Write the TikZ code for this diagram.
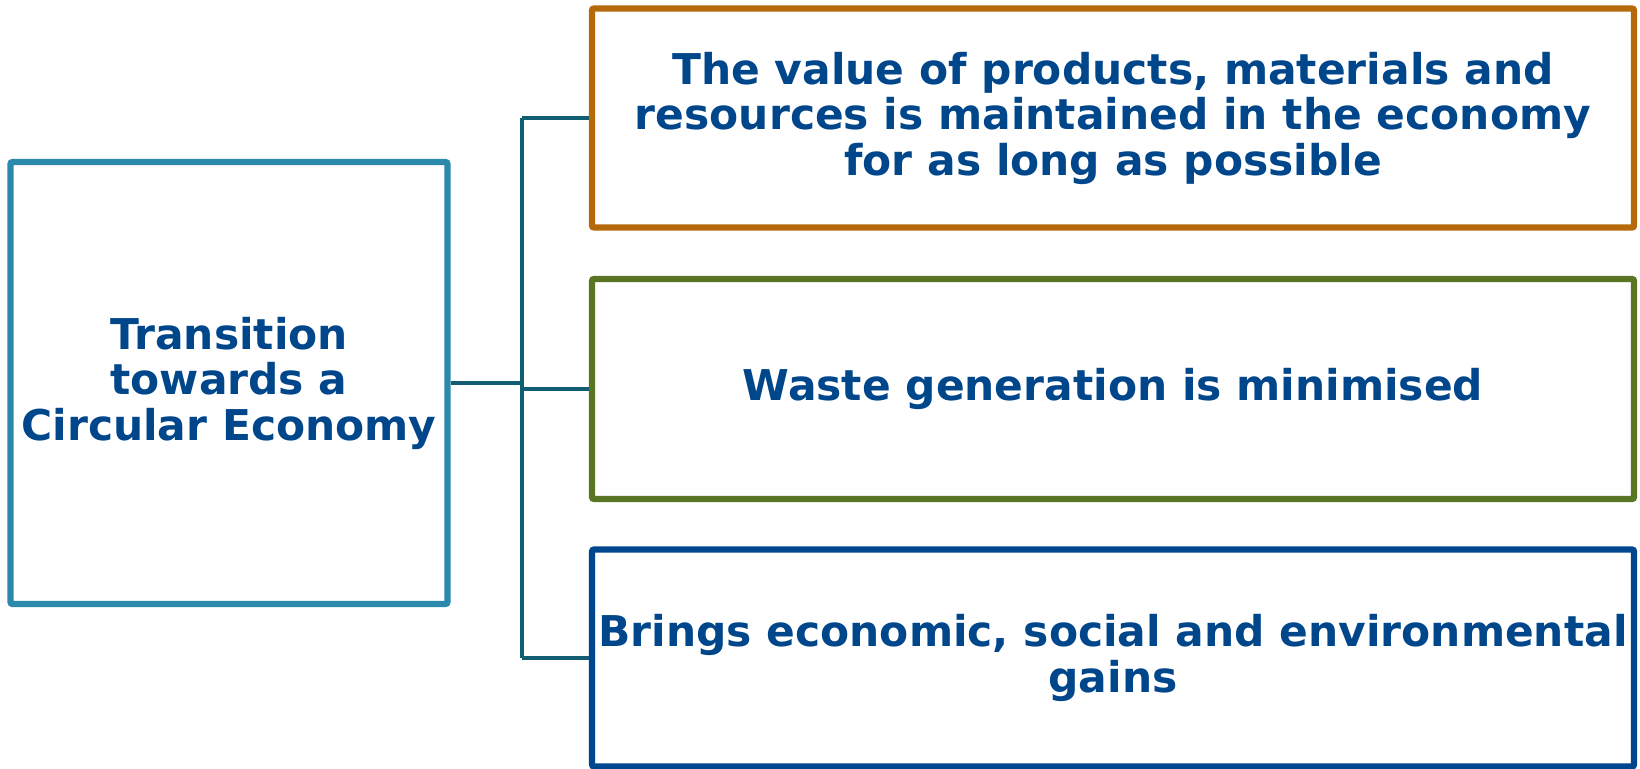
\documentclass[tikz,border=0pt]{standalone}
\usepackage{fontspec}
\setmainfont{DejaVu Sans}
\definecolor{ceteal}{HTML}{2B8AAB}
\definecolor{ceorange}{HTML}{B5690A}
\definecolor{cegreen}{HTML}{5A7523}
\definecolor{ceblue}{HTML}{00468F}
\definecolor{celink}{HTML}{115E72}
\definecolor{cetext}{HTML}{00468B}
\tikzset{
    cebox/.style={draw, rectangle, line width=6.2pt, rounded corners=2pt, fill=white,
        align=center, inner sep=0pt, text=cetext,
        font=\fontsize{42.4}{45.5}\selectfont\bfseries},
    celine/.style={draw=celink, line width=3.8pt}
}
\begin{document}
\begin{tikzpicture}[x=1pt, y=-1pt]

    \useasboundingbox (0, 0) rectangle (1640, 768);

    \node[cebox, draw=ceteal, minimum width=437pt, minimum height=442pt] (trans) at (229, 383)
        {Transition\\towards a\\Circular Economy};

    \node[cebox, draw=ceorange, minimum width=1042pt, minimum height=219pt] (value) at (1113, 118)
        {The value of products, materials and\\resources is maintained in the economy\\for as long as possible};
    \node[cebox, draw=cegreen, minimum width=1042pt, minimum height=220pt] (waste) at (1113, 389)
        {Waste generation is minimised};
    \node[cebox, draw=ceblue, minimum width=1042pt, minimum height=217pt] (gains) at (1113, 658)
        {Brings economic, social and environmental\\gains};

    \coordinate (top) at (522, 118);
    \coordinate (mid) at (522, 383);
    \coordinate (bot) at (522, 658);

    \draw[celine] (top) -- (bot);
    \draw[celine] (trans.east) -- (mid);
    \draw[celine] (top) -- (value.west);
    \draw[celine] (waste.west -| top) -- (waste.west);
    \draw[celine] (bot) -- (gains.west);

\end{tikzpicture}
\end{document}
